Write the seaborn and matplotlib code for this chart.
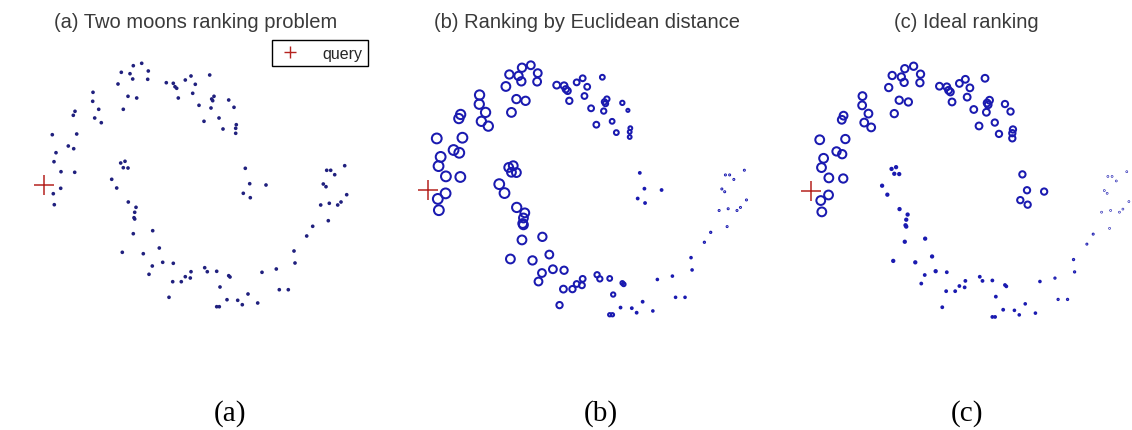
import numpy as np
import pandas as pd
import matplotlib
matplotlib.use("Agg")
import matplotlib.pyplot as plt
import seaborn as sns
from matplotlib.lines import Line2D

# ---- data (two-moons points) ----
x = [52.3, 56.0, 54.0, 61.0, 60.7, 53.3, 54.3, 74.7, 76.7, 68.3, 73.7, 73.3, 75.0, 93.0, 92.7,
     98.7, 94.7, 101.3, 118.0, 121.3, 123.3, 128.0, 136.7, 130.0, 132.7, 133.3, 141.7, 148.3, 147.7,
     166.3, 173.3, 175.0, 176.7, 178.3, 185.3, 191.0, 195.3, 192.7, 199.0, 204.0, 209.7, 211.7,
     214.0, 212.7, 211.0, 219.0, 223.0, 228.7, 234.0, 236.3, 235.7, 235.7, 245.3, 249.7, 266.0,
     243.3, 250.3,
     120.7, 125.0, 123.3, 128.0, 111.7, 116.7, 128.3, 136.0, 134.7, 134.0, 134.7, 133.3, 152.7,
     122.3, 143.3, 159.3, 162.7, 173.3, 152.3, 149.0, 172.7, 181.3, 185.3, 191.0, 190.3, 204.7,
     207.3, 216.7, 228.7, 230.0, 220.0, 169.0, 216.7, 219.3, 227.0, 237.7, 242.3, 248.0, 257.7,
     262.0, 276.3, 279.3, 288.3, 294.0, 295.0, 306.7, 312.7, 328.3, 320.7, 329.3, 337.7, 341.0,
     346.7, 323.3, 326.0, 326.7, 330.7, 334.7, 344.7]
y = [135.7, 153.7, 162.7, 172.7, 189.3, 194.7, 205.7, 173.3, 135.0, 147.0, 149.7, 116.3, 112.3,
     93.3, 102.3, 110.3, 119.0, 123.7, 85.0, 73.3, 110.3, 97.3, 99.0, 74.7, 80.0, 66.7, 64.3, 72.0,
     80.3, 83.7, 84.3, 87.7, 89.3, 99.0, 81.0, 77.0, 85.3, 94.3, 106.3, 122.3, 76.0, 100.0, 97.3,
     101.7, 109.0, 119.0, 130.0, 101.0, 108.3, 125.7, 129.3, 134.3, 169.3, 184.7, 186.0, 194.3,
     198.7,
     164.0, 162.3, 168.7, 169.0, 180.3, 189.0, 203.0, 208.3, 213.3, 218.7, 220.0, 234.7, 231.7,
     253.3, 254.7, 249.0, 263.3, 264.3, 267.0, 275.3, 282.7, 282.7, 277.7, 272.7, 279.0, 268.7,
     272.7, 272.3, 276.7, 278.0, 288.0, 298.3, 307.7, 307.7, 300.7, 301.3, 305.7, 295.0, 304.0,
     273.3, 270.0, 290.7, 290.7, 252.0, 264.0, 237.0, 227.3, 221.7, 206.0, 204.3, 206.0, 203.0,
     195.7, 185.0, 187.7, 171.3, 171.3, 175.7, 166.7]

# ranking scores shown as marker size
score_b = [1.0, 1.0, 1.0, 1.0, 1.0, 1.0, 1.0, 1.0, 1.0, 1.0, 1.0,
           0.95, 0.95, 0.95, 0.95, 0.95, 0.95, 0.95,
           0.9, 0.85, 0.9, 0.85, 0.85, 0.85, 0.85, 0.85, 0.8, 0.8, 0.8,
           0.7, 0.7, 0.65, 0.65, 0.65, 0.6, 0.6, 0.6, 0.6, 0.6, 0.6,
           0.5, 0.55, 0.55, 0.55, 0.55, 0.5, 0.5, 0.45, 0.33, 0.4, 0.4, 0.4,
           0.2, 0.2, 0.2, 0.2, 0.2,
           0.9, 0.9, 0.9, 0.9, 1.0, 1.0, 0.95, 0.9, 0.9, 0.9, 0.9, 0.9, 0.85, 0.9, 0.85,
           0.8, 0.8, 0.75, 0.8, 0.8, 0.7, 0.65, 0.6, 0.6, 0.6, 0.55, 0.55, 0.5, 0.4, 0.4,
           0.45, 0.65, 0.35, 0.35, 0.2, 0.2, 0.2, 0.2,
           0.18, 0.18, 0.18, 0.18, 0.18, 0.18, 0.18, 0.15, 0.15,
           0.12, 0.12, 0.12, 0.12, 0.12, 0.12, 0.12, 0.12, 0.12, 0.12, 0.12, 0.12]
score_c = [0.9, 0.9, 0.9, 0.9, 0.9, 0.9, 0.9,
           0.85, 0.85, 0.85, 0.85,
           0.8, 0.8, 0.8, 0.8, 0.8, 0.8, 0.8,
           0.75, 0.75, 0.75, 0.75, 0.75, 0.75, 0.75, 0.75, 0.75, 0.75, 0.75,
           0.7, 0.7, 0.7, 0.7, 0.7, 0.7, 0.7, 0.7, 0.7, 0.7, 0.7, 0.7, 0.7, 0.7, 0.7, 0.7,
           0.65, 0.65, 0.65, 0.65, 0.65, 0.65, 0.65, 0.65, 0.65, 0.65, 0.65, 0.65,
           0.25, 0.25, 0.25, 0.25, 0.25, 0.25, 0.25, 0.25, 0.25, 0.25, 0.25, 0.25, 0.25,
           0.25, 0.25, 0.25, 0.25,
           0.2, 0.2, 0.2, 0.2, 0.2, 0.2, 0.2, 0.2, 0.2, 0.2, 0.2, 0.2, 0.2, 0.2, 0.2, 0.2,
           0.2, 0.2,
           0.18, 0.18, 0.18, 0.18, 0.18,
           0.15, 0.15, 0.15, 0.15, 0.15,
           0.12, 0.12,
           0.08, 0.08, 0.08, 0.08, 0.08, 0.08, 0.08, 0.08, 0.08, 0.08, 0.08, 0.08]

query_x = [43.7]
query_y = [185.7]

titles = ["(a) Two moons ranking problem", "(b) Ranking by Euclidean distance", "(c) Ideal ranking"]
sublabels = ["(a)", "(b)", "(c)"]
legend_label = "query"

assert len(x) == len(y) == len(score_b) == len(score_c)

# ---- style ----
sns.set_theme(style="white")
plt.rcParams["font.family"] = ["Liberation Sans", "DejaVu Sans"]

BLUE = "#1a1ab0"
DOT = "#20207e"
RED = "#b5231f"
W, H = 1132, 431
fig = plt.figure(figsize=(W / 100, H / 100), dpi=100)
fig.patch.set_facecolor("white")


def px_axes(l, t, r, b):
    return fig.add_axes([l / W, 1 - b / H, (r - l) / W, (b - t) / H])


boxes = [(30, 30, 355, 330), (413.3, 31.1, 755.2, 338.6), (796.3, 31.9, 1137.6, 340.9)]
axes = [px_axes(*bx) for bx in boxes]
for ax in axes:
    ax.set_xlim(30, 355)
    ax.set_ylim(330, 30)
    ax.set_axis_off()

df = pd.DataFrame({"x": x, "y": y, "sb": score_b, "sc": score_c})

# panel a: plain dots
sns.scatterplot(data=df, x="x", y="y", s=7, color=DOT, edgecolor="none", linewidth=0,
                legend=False, ax=axes[0])

# panels b, c: circles sized by ranking score
for ax, col in zip(axes[1:], ["sb", "sc"]):
    dpt = np.clip(10 * df[col].to_numpy() - 0.2, 0.3, None) * 0.72
    d = df.assign(area=dpt ** 2)
    amin, amax = d["area"].min(), d["area"].max()
    sns.scatterplot(data=d, x="x", y="y", size="area", sizes=(amin, amax), size_norm=(amin, amax),
                    marker="o", facecolor="none", edgecolor=BLUE, linewidth=1.45,
                    legend=False, ax=ax, clip_on=False)

for ax in axes:
    ax.plot(query_x, query_y, ls="none", marker="+", ms=15, mew=1.1, color=RED, zorder=5)

# legend in panel a
h = Line2D([], [], ls="none", marker="+", ms=8, mew=1.0, color=RED)
leg = axes[0].legend([h], [legend_label], loc="upper right",
                     bbox_to_anchor=(368 / W, 1 - 41 / H), bbox_transform=fig.transFigure,
                     frameon=True, fancybox=False, framealpha=1, edgecolor="black",
                     fontsize=11.5, borderpad=0.35, handletextpad=1.2, handlelength=1.6,
                     borderaxespad=0)
leg.get_frame().set_linewidth(1.0)

title_cx = [196, 586.5, 966]
for cx, t in zip(title_cx, titles):
    fig.text(cx / W, 1 - 23 / H, t, ha="center", va="center", fontsize=14.5, color="#3a3a3a")

label_cx = [230, 601, 967]
for cx, t in zip(label_cx, sublabels):
    fig.text(cx / W, 1 - 414 / H, t, ha="center", va="center", fontsize=21,
             family=["Liberation Serif", "DejaVu Serif"], color="black")

fig.savefig("out.png", dpi=100, facecolor="white")
